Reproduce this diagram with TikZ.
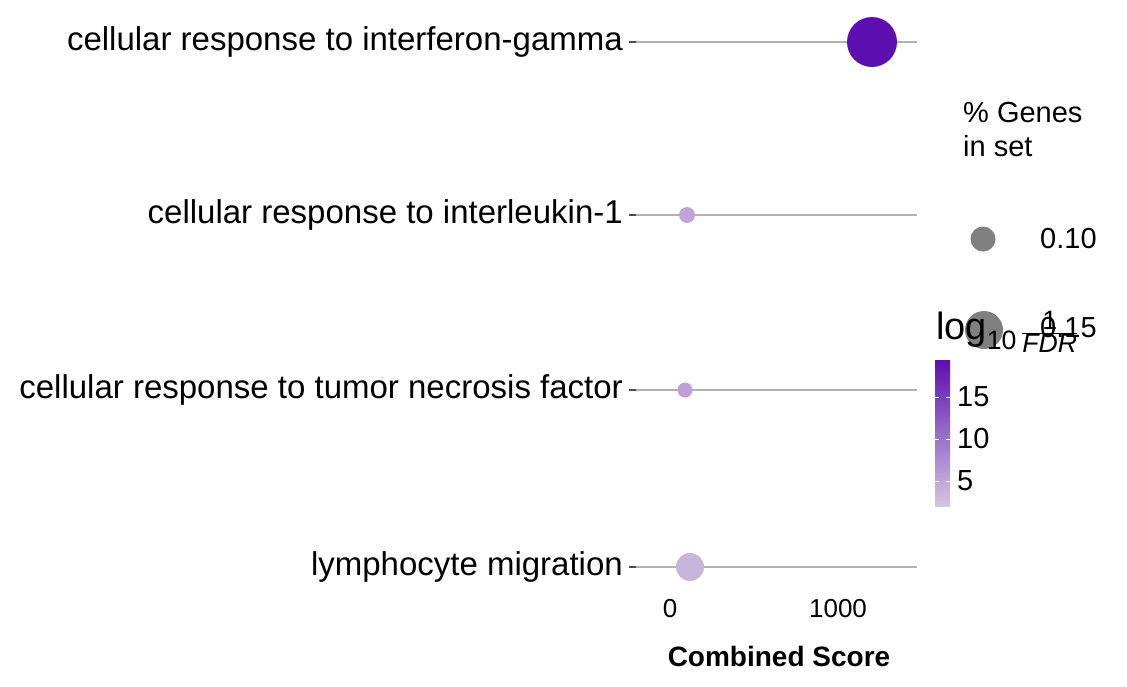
\documentclass[tikz,border=0pt]{standalone}
\usepackage{amsmath}
\usepackage{fontspec}
\setmainfont{Liberation Sans}
\begin{document}
\begin{tikzpicture}[x=1pt,y=-1pt,
  lbl/.style={anchor=east,font=\fontsize{33}{38}\selectfont,inner sep=0},
  stem/.style={draw=black!30,line width=1.5pt},
  tk/.style={font=\fontsize{29}{33}\selectfont,inner sep=0}]
\definecolor{dark}{HTML}{5E0FB0}
\definecolor{light}{HTML}{D2C6E2}
\useasboundingbox (0,0) rectangle (1127,686);
\foreach \y/\t [count=\i] in {42/cellular response to interferon-gamma,215/cellular response to interleukin-1,390/cellular response to tumor necrosis factor,567/lymphocyte migration}{
  \coordinate (s\i) at (636,\y); \coordinate (e\i) at (917,\y); \coordinate (t\i) at (629,\y);
  \draw[stem] (s\i) -- (e\i);
  \draw[line width=1.5pt,black!70] (t\i) -- (s\i);
  \node[lbl] (l\i) at (623,\y) {\t};
}
\fill[dark] (872,42) circle (25);
\fill[fill={rgb,255:red,192;green,164;blue,216}] (687,215) circle (8);
\fill[fill={rgb,255:red,190;green,160;blue,214}] (685,390) circle (7.5);
\fill[fill={rgb,255:red,198;green,182;blue,218}] (690,567) circle (14);
\node[tk,font=\fontsize{26}{30}\selectfont] (n0) at (670,609) {0};
\node[tk,font=\fontsize{26}{30}\selectfont] (n1) at (838,609) {1000};
\node[font=\fontsize{28}{32}\selectfont\bfseries,inner sep=0] (xl) at (779,656) {Combined Score};
\node[anchor=west,align=left,font=\fontsize{29}{34}\selectfont,inner sep=0] (lg) at (963,130) {\% Genes\\in set};
\fill[gray] (983,239) circle (12.5);
\node[tk,anchor=west] (g1) at (1040,239) {0.10};
\fill[gray] (984,330) circle (19);
\node[tk,anchor=west] (g2) at (1040,328) {0.15};
\node[anchor=west,inner sep=0,font=\fontsize{38}{42}\selectfont] (lt) at (936,332) {log$_{\text{10}}\,\frac{\text{1}}{\textit{FDR}}$};
\shade[top color=dark,bottom color=light] (935,360) rectangle (950,506);
\foreach \y/\v in {397/15,439/10,481/5}{
  \draw[white,line width=1pt] (935,\y) -- (939,\y) (946,\y) -- (950,\y);
  \node[tk,anchor=west] at (957,\y) {\v};
}
\end{tikzpicture}
\end{document}
